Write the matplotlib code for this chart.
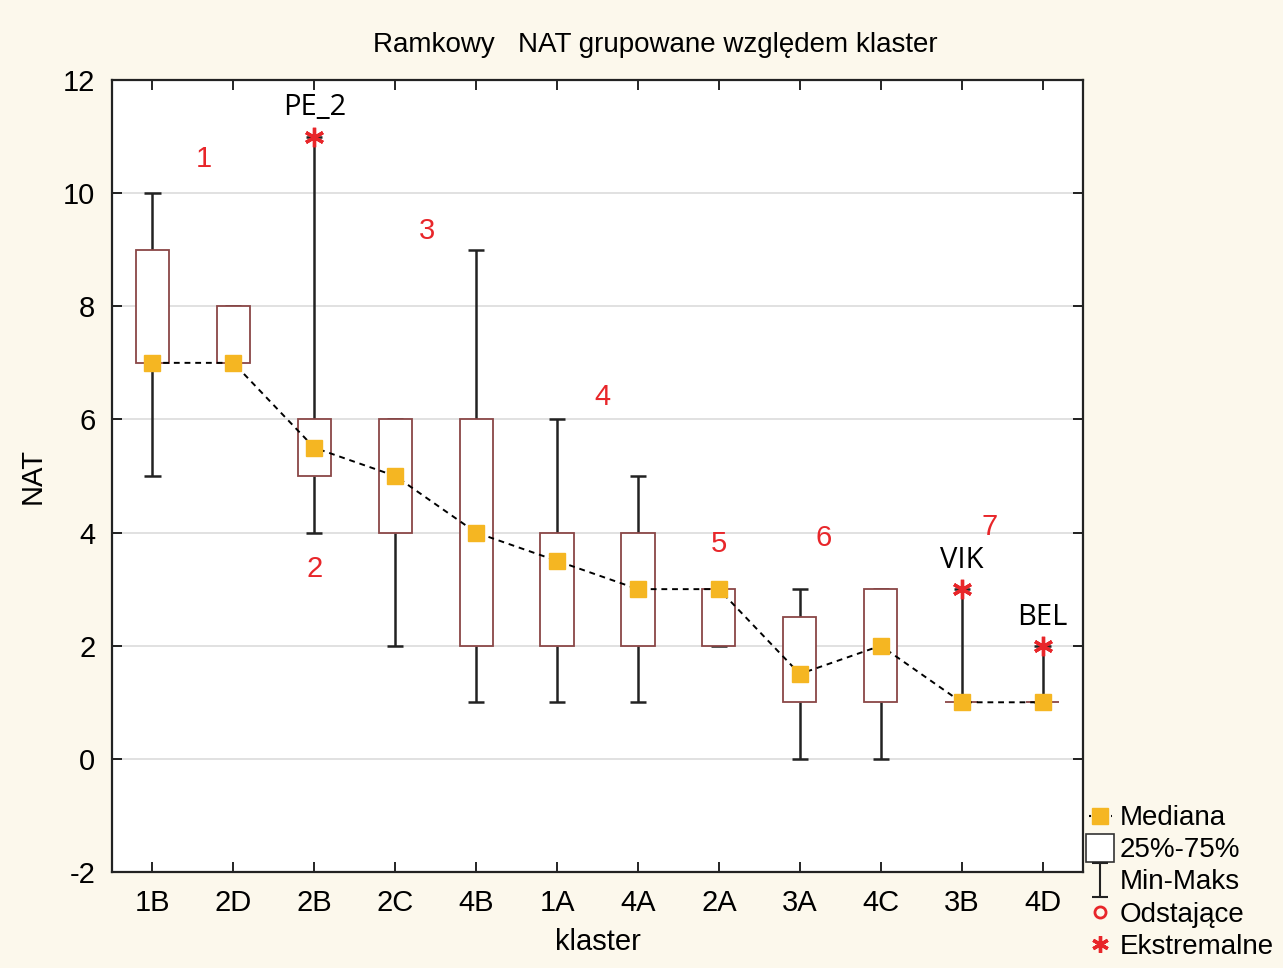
import numpy as np
import matplotlib.pyplot as plt
from matplotlib.patches import Rectangle
from matplotlib.lines import Line2D
from matplotlib.path import Path

plt.rcParams['font.family'] = ['Liberation Sans', 'DejaVu Sans']
plt.rcParams['axes.unicode_minus'] = False

clusters = ['1B', '2D', '2B', '2C', '4B', '1A', '4A', '2A', '3A', '4C', '3B', '4D']
mins = [5, 7, 4, 2, 1, 1, 1, 2, 0, 0, 1, 1]
q1 = [7, 7, 5, 4, 2, 2, 2, 2, 1, 1, 1, 1]
medians = [7, 7, 5.5, 5, 4, 3.5, 3, 3, 1.5, 2, 1, 1]
q3 = [9, 8, 6, 6, 6, 4, 4, 3, 2.5, 3, 1, 1]
maxs = [10, 8, 11, 6, 9, 6, 5, 3, 3, 3, 3, 2]

# extreme points (cluster index, value, label)
extreme_idx = [2, 10, 11]
extreme_val = [11, 3, 2]
extreme_lab = ['PE_2', 'VIK', 'BEL']

# red group numbers
group_num = ['1', '2', '3', '4', '5', '6', '7']
group_x = [1.64, 3.0, 4.39, 6.56, 8.0, 9.3, 11.35]
group_y = [10.6, 3.35, 9.33, 6.4, 3.8, 3.9, 4.1]

bg = '#fcf8ec'
box_col = '#8a4646'
med_col = '#f5b622'
red = '#e8262a'
fs = 21

fig = plt.figure(figsize=(12.83, 9.68), dpi=100, facecolor=bg)
ax = fig.add_axes([112/1283, 1 - 872/968, (1083-112)/1283, (872-80)/968])
ax.set_facecolor('white')

pos = np.arange(1, len(clusters) + 1)
bw = 0.41
cw = 0.2
for i, p in enumerate(pos):
    # whiskers
    ax.vlines(p, mins[i], q1[i], color='#222222', lw=1.8, zorder=2)
    ax.vlines(p, q3[i], maxs[i], color='#222222', lw=1.8, zorder=2)
    ax.hlines([mins[i], maxs[i]], p - cw/2, p + cw/2, color='#222222', lw=1.8, zorder=2)
    ax.add_patch(Rectangle((p - bw/2, q1[i]), bw, q3[i] - q1[i], facecolor='white',
                           edgecolor=box_col, lw=1.3, zorder=3))

ax.plot(pos, medians, color='black', ls=(0, (3, 2.5)), lw=1.4, zorder=4)
ax.plot(pos, medians, ls='none', marker='s', ms=11.5, color=med_col, zorder=5)

for k, i in enumerate(extreme_idx):
    ax.plot(pos[i], extreme_val[k], ls='none', marker=(6, 2, 0), ms=14, mew=2.4,
            color=red, zorder=6)
    ax.text(pos[i], extreme_val[k] + 0.25, extreme_lab[k], ha='center', va='bottom',
            fontsize=fs, family=['Open Sans', 'DejaVu Sans'], color='black')

for t, x, y in zip(group_num, group_x, group_y):
    ax.text(x, y, t, color=red, fontsize=fs, ha='center', va='center')

ax.set_xlim(0.5, 12.5)
ax.set_ylim(-2, 12)
ax.set_xticks(pos)
ax.set_xticklabels(clusters)
ax.set_yticks(np.arange(-2, 13, 2))
ax.yaxis.grid(True, color='#dcdcdc', lw=1.2)
ax.set_axisbelow(True)
ax.tick_params(direction='in', top=True, right=True, length=7, width=1.2,
               labelsize=fs, pad=12)
for s in ax.spines.values():
    s.set_linewidth(1.6)
    s.set_color('#222222')

ax.set_xlabel('klaster', fontsize=fs, labelpad=8)
ax.set_ylabel('NAT', fontsize=fs, labelpad=12)
fig.text(655/1283, 1 - 45/968, 'Ramkowy   NAT grupowane względem klaster',
         ha='center', va='center', fontsize=20)

ibeam = Path([(-0.5, 1), (0.5, 1), (0, 1), (0, -1), (-0.5, -1), (0.5, -1)],
             [Path.MOVETO, Path.LINETO, Path.MOVETO, Path.LINETO, Path.MOVETO, Path.LINETO])
handles = [
    Line2D([], [], color='black', ls=':', marker='s', ms=12, mfc=med_col, mec=med_col),
    Line2D([], [], ls='none', marker='s', ms=20, mfc='white', mec='#333333', mew=1.2),
    Line2D([], [], ls='none', marker=ibeam, ms=24, color='#222222', mew=1.5),
    Line2D([], [], ls='none', marker='o', ms=8, mfc='none', mec=red, mew=2),
    Line2D([], [], ls='none', marker=(6, 2, 0), ms=12, mew=2.4, color=red),
]
labels = ['Mediana', '25%-75%', 'Min-Maks', 'Odstające', 'Ekstremalne']
fig.legend(handles, labels, loc='lower left', bbox_to_anchor=(1081/1283, 0.0),
           frameon=False, fontsize=20, handlelength=0.8, handletextpad=0.3,
           labelspacing=0.22, borderaxespad=0.05, borderpad=0.25)

fig.savefig('out.png', dpi=100, facecolor=bg)
